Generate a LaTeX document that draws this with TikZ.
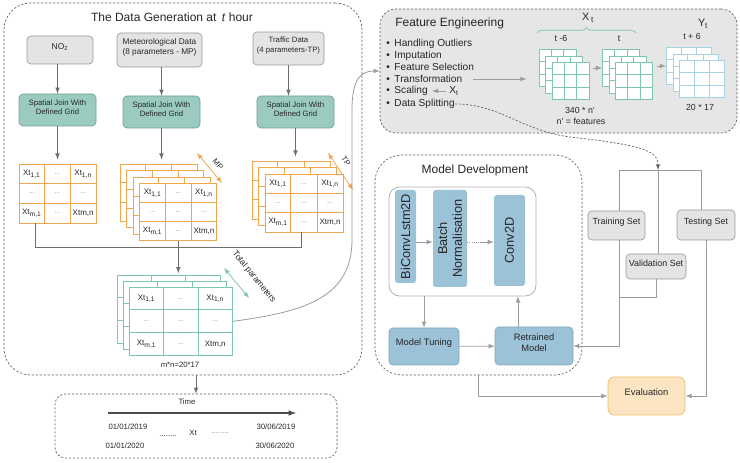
\documentclass[tikz,border=0pt]{standalone}
\usepackage{fontspec}
\setmainfont{Liberation Sans}
\usetikzlibrary{fit,calc,decorations.pathreplacing}

\definecolor{txt}{HTML}{262626}
\definecolor{darkline}{HTML}{6E6E6E}
\definecolor{lightline}{HTML}{9C9C9C}
\definecolor{boxgray}{HTML}{E4E4E4}
\definecolor{bordergray}{HTML}{9A9A9A}
\definecolor{dashgray}{HTML}{5E5E5E}
\definecolor{fegray}{HTML}{E6E6E6}
\definecolor{tealfill}{HTML}{9BCBC0}
\definecolor{tealdraw}{HTML}{6F9F95}
\definecolor{gridor}{HTML}{F0A54F}
\definecolor{gridgr}{HTML}{7FC6AE}
\definecolor{gridbl}{HTML}{A8D2E6}
\definecolor{mblue}{HTML}{9BC2D7}
\definecolor{mbluedraw}{HTML}{7FA6BD}
\definecolor{evfill}{HTML}{FDE4C3}
\definecolor{evdraw}{HTML}{E8C262}
\definecolor{dotgray}{HTML}{8A8A8A}

\newcommand{\cellstack}[8]{%
  \foreach \ly in {0,...,#6}{%
    \pgfmathsetmacro{\xa}{#2+\ly*#7}%
    \pgfmathsetmacro{\ya}{#3+\ly*#7}%
    \node[#8, fit={(\xa,\ya) (\xa+#4,\ya+#5)}] (#1-\ly) {};
    \foreach \ci in {1,2}{%
      \draw[#8] ($(#1-\ly.north west)!\ci/3!(#1-\ly.north east)$) -- ($(#1-\ly.south west)!\ci/3!(#1-\ly.south east)$);
      \draw[#8] ($(#1-\ly.north west)!\ci/3!(#1-\ly.south west)$) -- ($(#1-\ly.north east)!\ci/3!(#1-\ly.south east)$);
    }%
  }%
}

\newcommand{\celltext}[5]{%
  \node[celltxt] (#1-a) at (#2+#4/6,#3+#5/6) {Xt\textsubscript{1,1}};
  \node[celldot] (#1-b) at (#2+#4/2,#3+#5/6) {...};
  \node[celltxt] (#1-c) at (#2+5*#4/6,#3+#5/6) {Xt\textsubscript{1,n}};
  \node[celldot] (#1-d) at (#2+#4/6,#3+#5/2) {...};
  \node[celldot] (#1-e) at (#2+#4/2,#3+#5/2) {...};
  \node[celldot] (#1-f) at (#2+5*#4/6,#3+#5/2) {...};
  \node[celltxt] (#1-g) at (#2+#4/6,#3+5*#5/6) {Xt\textsubscript{m,1}};
  \node[celldot] (#1-h) at (#2+#4/2,#3+5*#5/6) {...};
  \node[celltxt] (#1-i) at (#2+5*#4/6,#3+5*#5/6) {Xtm,n};
}

\begin{document}
\begin{tikzpicture}[x=0.75pt, y=-0.75pt,
    every node/.append style={inner sep=0pt, text=txt},
    cont/.style={draw=dashgray, dash pattern=on 1.6pt off 1.4pt, line width=0.5pt, rounded corners=20pt},
    graybox/.style={draw=bordergray, fill=boxgray, line width=0.5pt, rounded corners=3pt, align=center},
    joinbox/.style={draw=tealdraw, fill=tealfill, line width=0.5pt, rounded corners=3pt, align=center, font=\fontsize{5.8}{7}\selectfont},
    modelbox/.style={draw=mbluedraw, fill=mblue, line width=0.5pt, rounded corners=3pt, align=center, font=\fontsize{7}{8.5}\selectfont},
    layerbox/.style={fill=mblue, rounded corners=2pt},
    vtxt/.style={rotate=90, align=center, font=\fontsize{9.6}{11}\selectfont},
    ogrid/.style={draw=gridor, fill=white, line width=0.7pt},
    ggrid/.style={draw=gridgr, fill=white, line width=0.7pt},
    bgrid/.style={draw=gridbl, fill=white, line width=0.7pt},
    celltxt/.style={font=\fontsize{6}{7}\selectfont},
    celldot/.style={font=\fontsize{5}{6}\selectfont, text=dotgray},
    small/.style={font=\fontsize{5.8}{7}\selectfont},
    felabel/.style={font=\fontsize{6.6}{8}\selectfont},
    title/.style={font=\fontsize{9}{11}\selectfont},
    bullettext/.style={anchor=west, font=\fontsize{7.6}{9}\selectfont},
    link/.style={draw=darkline, line width=0.6pt},
    linkarrow/.style={link, -latex},
    slink/.style={draw=lightline, line width=0.6pt},
    slinkarrow/.style={slink, -latex},
    dblarrow/.style={latex-latex, line width=0.6pt}]

    \useasboundingbox (0,0) rectangle (740,463);

    \node[cont, fill=fegray, rounded corners=12pt, fit={(380,9) (737,133)}] (fe) {};
    \node[cont, fit={(4,3) (362,375)}] (gen) {};
    \node[cont, fit={(375,155) (582,375)}] (md) {};
    \node[cont, rounded corners=8pt, fit={(55,394) (337,458)}] (tbox) {};

    \node[title] (gentitle) at (172,17) {The Data Generation at \,\textit{t} hour};
    \node[graybox, font=\fontsize{6.3}{7.5}\selectfont, fit={(27,36) (93,64)}] (no2) {NO\textsubscript{2}};
    \node[graybox, font=\fontsize{6.2}{7.6}\selectfont, fit={(117,33) (202,67)}] (met) {Meteorological Data\\(8 parameters - MP)};
    \node[graybox, font=\fontsize{5.8}{7.2}\selectfont, fit={(253,32) (324,65)}] (trf) {Traffic Data\\(4 parameters-TP)};
    \node[joinbox, fit={(19,94) (96,126)}] (sj1) {Spatial Join With\\Defined Grid};
    \node[joinbox, fit={(123,96) (200,128)}] (sj2) {Spatial Join With\\Defined Grid};
    \node[joinbox, fit={(257,96) (334,128)}] (sj3) {Spatial Join With\\Defined Grid};

    \cellstack{g1}{19}{164}{77}{59}{0}{0}{ogrid}
    \celltext{g1t}{19}{164}{77}{59}
    \cellstack{g2}{120}{164}{77}{57}{3}{6.6}{ogrid}
    \celltext{g2t}{139.8}{183.8}{77}{57}
    \cellstack{g3}{252}{161}{78}{58}{2}{6.5}{ogrid}
    \celltext{g3t}{265}{174}{78}{58}
    \cellstack{gs}{117}{275}{103}{68}{2}{6.2}{ggrid}
    \celltext{gst}{129.4}{287.4}{103}{68}

    \draw[linkarrow] (no2.south -| sj1) -- (sj1);
    \draw[linkarrow] (met.south -| sj2) -- (sj2);
    \draw[linkarrow] (trf) -- (trf |- sj3.north);
    \draw[linkarrow, shorten >=3pt] (sj1) -- (sj1 |- g1-0.north);
    \draw[linkarrow, shorten >=3pt] (sj2) -- (sj2 |- g2-0.north);
    \draw[linkarrow, shorten >=3pt] (sj3) -- (sj3 |- g3-0.north);

    \coordinate (jl) at (35,247);
    \coordinate (jr) at (301,247);
    \draw[link] (jl |- g1-0.south) -- (jl) -- (jr) -- (jr |- g3-2.south);
    \draw[linkarrow, shorten >=1pt] (g2-3.south) -- (g2-3.south |- gs-0.north);

    \coordinate (mpa) at (197,153);
    \coordinate (mpb) at (222,183);
    \draw[dblarrow, draw=gridor] (mpa) -- (mpb);
    \node[small, rotate=-50] (mplab) at (218,164) {MP};
    \coordinate (tpa) at (328,153);
    \coordinate (tpb) at (353,190);
    \draw[dblarrow, draw=gridor] (tpa) -- (tpb);
    \node[small, rotate=-55] (tplab) at (346,161) {TP};
    \coordinate (tota) at (224,268);
    \coordinate (totb) at (249,298);
    \draw[dblarrow, draw=gridgr] (tota) -- (totb);
    \node[font=\fontsize{6.4}{7.5}\selectfont, rotate=-51] (totlab) at (254,277) {Total parameters};
    \node[small] (mn) at (180,365) {m*n=20*17};

    \draw[linkarrow] (gen.south -| tbox) -- (tbox);
    \node[small] (time) at (187,402) {Time};
    \coordinate (ta) at (108,413);
    \coordinate (tb) at (296,413);
    \draw[draw=dashgray!80!black, line width=0.9pt, -latex] (ta) -- (tb);
    \node[small] (d1) at (128,427) {01/01/2019};
    \node[small] (d2) at (276,427) {30/06/2019};
    \node[small] (d3) at (125,446) {01/01/2020};
    \node[small] (d4) at (275,446) {30/06/2020};
    \node[small] (dl) at (168,436) {........};
    \node[small] (xt) at (193,433) {Xt};
    \node[small, text=dotgray] (dr) at (220,433) {........};

    \draw[slinkarrow] (gs-2.east) .. controls (300,312) and (352,300) .. (352,240) -- (352,110) .. controls (352,80) and (360,71) .. (fe.west);

    \node[title, anchor=west] (fetitle) at (395,23) {Feature Engineering};
    \foreach \nm/\yy/\txt in {ho/44/Handling Outliers, im/55.5/Imputation, fs/67/Feature Selection, tr/79/Transformation, sc/91/Scaling, ds/104/Data Splitting}
        \node[bullettext] (\nm) at (386,\yy) {\textbullet\hspace{3.5pt}\txt};
    \node[bullettext] (xsc) at (449,91) {X\textsubscript{t}};
    \draw[slinkarrow, shorten <=2pt, shorten >=3pt] (xsc.west) -- (sc.east);

    \cellstack{s1}{539}{49.5}{37}{37}{2}{6.5}{ggrid}
    \cellstack{s2}{602.5}{49.5}{37}{37}{2}{6.5}{ggrid}
    \cellstack{s3}{666.5}{47.5}{45}{37}{2}{6.5}{bgrid}
    \draw[slinkarrow, shorten <=8pt, shorten >=9pt] (tr.east) -- (tr.east -| s1-0.west);
    \draw[slinkarrow, shorten <=3pt] (s1-2.east |- s1-0) -- (s2-0.west);
    \draw[slinkarrow, shorten <=3pt] (s2-2.east |- s3-0) -- (s3-0.west);
    \draw[draw=gridgr, line width=0.6pt, decorate, decoration={brace, amplitude=4pt}] (537,33) -- (636,33);
    \node[font=\fontsize{8}{9.6}\selectfont] (xtop) at (588,18) {X\,\textsubscript{t}};
    \node[font=\fontsize{8}{9.6}\selectfont] (ytop) at (703,24) {Y\textsubscript{t}};
    \node[felabel] (tm6) at (561,38) {t -6};
    \node[felabel] (tt0) at (619,39) {t};
    \node[felabel] (tp6) at (692,36) {t + 6};
    \node[felabel] (n340) at (580,110) {340 * n'};
    \node[felabel] (nfeat) at (581,121) {n' = features};
    \node[felabel] (n2017) at (700,107) {20 * 17};

    \node[title] (mdtitle) at (475,170) {Model Development};
    \node[draw=lightline!80, line width=0.6pt, rounded corners=8pt, fill=white, fit={(389,187) (536,296)}] (ib) {};
    \node[layerbox, fit={(395,190) (416,283)}] (bc) {};
    \node[vtxt] (bct) at (bc) {BiConvLstm2D};
    \node[layerbox, fit={(433,190) (467,287)}] (bn) {};
    \node[vtxt] (bnt) at (bn) {Batch\\Normalisation};
    \node[layerbox, fit={(494,195) (525,286)}] (cv) {};
    \node[vtxt] (cvt) at (cv) {Conv2D};
    \coordinate (lrow) at (450,242);
    \coordinate (dotend) at (481,242);
    \draw[slinkarrow] (bc.east |- lrow) -- (bn.west |- lrow);
    \draw[slink, densely dotted] (bn.east |- lrow) -- (dotend);
    \draw[slinkarrow] (dotend) -- (cv.west |- lrow);

    \node[modelbox, fit={(389,328) (459,365)}] (mt) {Model Tuning};
    \node[modelbox, fit={(495,327) (573,365)}] (rm) {Retrained\\Model};
    \coordinate (rmup) at (518,310);
    \draw[slinkarrow] (ib.south -| mt) -- (mt);
    \draw[slinkarrow] (mt) -- (rm);
    \draw[slinkarrow] (rmup |- rm.north) -- (rmup |- ib.south);

    \node[graybox, font=\fontsize{6.7}{8}\selectfont, fit={(588,211) (645,240)}] (ts) {Training Set};
    \node[graybox, font=\fontsize{6.7}{8}\selectfont, fit={(626,254) (686,279)}] (vs) {Validation Set};
    \node[graybox, font=\fontsize{6.7}{8}\selectfont, fit={(677,210) (735,240)}] (tt) {Testing Set};
    \node[draw=evdraw, fill=evfill, line width=0.6pt, rounded corners=5pt, font=\fontsize{7}{8.5}\selectfont, fit={(608,377) (685,415)}] (ev) {Evaluation};

    \coordinate (sp1) at (619,170);
    \coordinate (sp2) at (658,170);
    \coordinate (sp3) at (701,170);
    \coordinate (vj) at (619,297);
    \draw[slink] (sp1) -- (sp3);
    \draw[slink] (sp1) -- (sp1 |- ts.north);
    \draw[slink] (sp2) -- (sp2 |- vs.north);
    \draw[slink] (sp3) -- (sp3 |- tt.north);
    \draw[slinkarrow] (sp1 |- ts.south) |- (rm.east);
    \draw[slink] (vs.south) |- (vj);
    \draw[slinkarrow] (tt.south) |- (ev.east);
    \draw[slinkarrow] (md.south) |- (ev.west);
    \draw[-latex, draw=dashgray, line width=0.5pt, dash pattern=on 1.6pt off 1.2pt] (ds.east) .. controls (500,104) and (520,130) .. (570,137) .. controls (640,145) and (658,150) .. (sp2);
\end{tikzpicture}
\end{document}
